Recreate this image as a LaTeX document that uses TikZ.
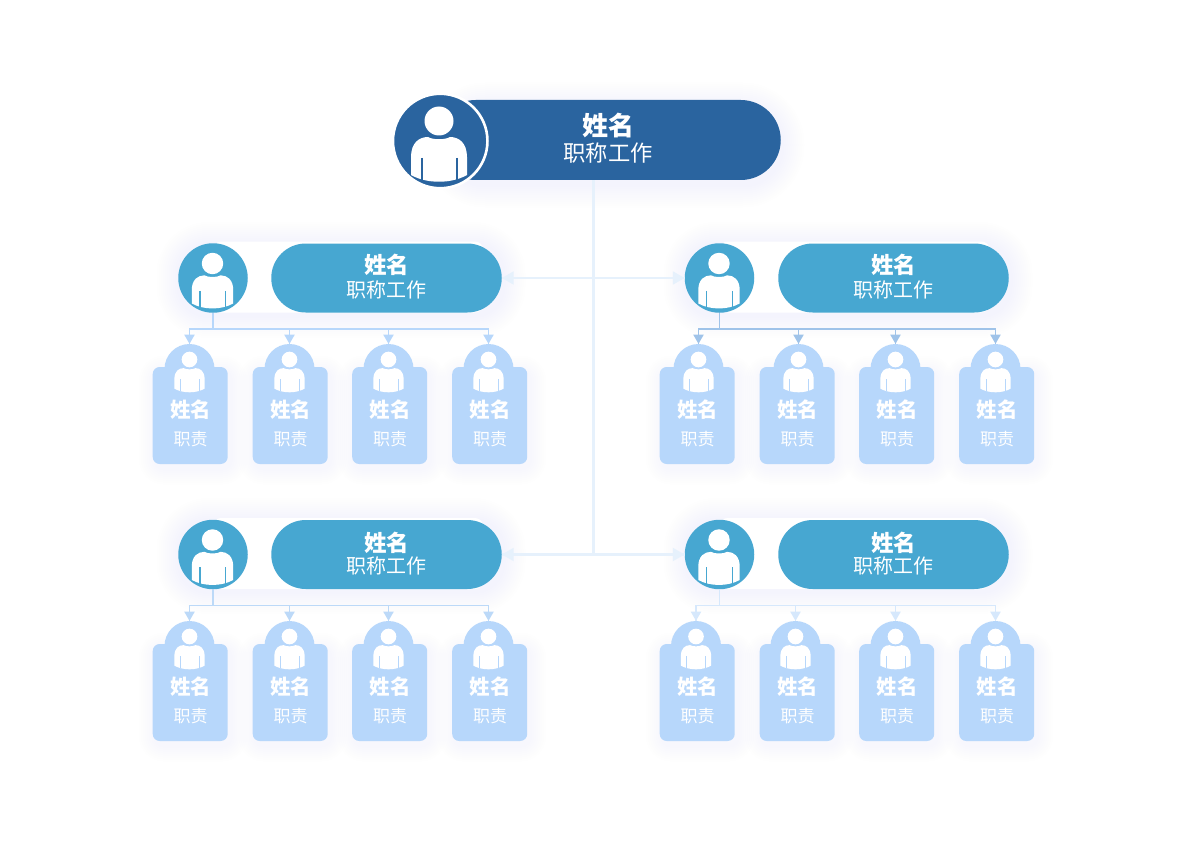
\documentclass[tikz,border=0pt]{standalone}
\usepackage{fontspec}
\usepackage{tikz}
\setmainfont{Noto Sans CJK SC}
\usetikzlibrary{arrows}
\usetikzlibrary{decorations.markings}
\definecolor{topblue}{HTML}{2A649F}
\definecolor{midblue}{HTML}{47A7D1}
\definecolor{tagblue}{HTML}{B7D7FB}
\definecolor{shadowblue}{HTML}{E6F1FD}
\definecolor{trunkblue}{HTML}{E6F1FC}
\definecolor{lineA}{HTML}{B7D7FB}
\definecolor{lineB}{HTML}{9FC3E9}
\definecolor{lineC}{HTML}{BCD9F8}
\definecolor{lineD}{HTML}{D6E8FC}
\tikzset{tiphead/.style = {decoration={markings,
                                  mark=at position 1 with {\arrow[scale=#1]{triangle 60}}},
                      postaction={decorate}},
  pill/.style = {rectangle, inner sep=0pt},
  round/.style = {circle, inner sep=0pt},
  tagbody/.style = {rectangle, inner sep=0pt, fill=tagblue, rounded corners=7pt,
                    minimum width=75pt, minimum height=97pt},
  dome/.style = {round, fill=tagblue, minimum size=50pt},
  whitetext/.style = {text=white, inner sep=0pt},
  pics/personicon/.style = {code={
      \fill[white] (0,0) circle (14.5);
      \fill[white] (-28,54) -- (-28,36) .. controls (-28,22) and (-20,16) .. (-11,16)
        .. controls (-6,19) and (6,19) .. (11,16)
        .. controls (20,16) and (28,22) .. (28,36) -- (28,54)
        .. controls (12,63) and (-12,63) .. (-28,54) -- cycle;
      \draw[#1, line width=1.2pt] (-17,37) -- (-17,59);
      \draw[#1, line width=1.2pt] (18,37) -- (18,59);
  }}}
\newcommand{\softshadow}[6]{%
  \foreach \s in {1,3,...,#6}
    \fill[shadowblue, opacity=.04, rounded corners=#5+\s]
      ({#1-\s},{#2-\s}) rectangle ({#3+\s},{#4+\s});}
\begin{document}
\begin{tikzpicture}[x=1pt, y=-1pt]
  \useasboundingbox (0,0) rectangle (1200,848);
  \fill[white] (0,0) rectangle (1200,848);
  % soft shadows
  \softshadow{445}{104}{783}{186}{40}{21}
  \foreach \gx/\gy in {178/243.5, 685/243.5, 178/519.5, 685/519.5} {
    \softshadow{\gx}{\gy}{\gx+326}{\gy+73}{30}{21}
  }
  \foreach \bx/\by in {190.5/367, 290/367, 389.5/367, 489.5/367,
                       697.5/367, 796.5/367, 896.5/367, 996.5/367,
                       190.5/644, 290/644, 389.5/644, 489.5/644,
                       697.5/644, 796.5/644, 896.5/644, 996.5/644} {
    \softshadow{\bx-36}{\by+4}{\bx+41}{\by+102}{9}{15}
  }
  % white bands behind the second level
  \foreach \gx/\gy in {213/241.5, 719.5/241.5, 213/518} {
    \fill[white, rounded corners=8pt] (\gx,\gy) rectangle (\gx+270,\gy+71);
  }
  \fill[white, rounded corners=8pt] (719.5,518) rectangle (989.5,589);
  % top level
  \node[pill, fill=topblue, rounded corners=40pt, minimum width=345pt, minimum height=80pt] (pillTop) at (608.25,140) {};
  \node[round, fill=topblue, draw=white, line width=2.6pt, minimum size=94.5pt] (circTop) at (440.2,141) {};
  \pic at (439,121) {personicon=topblue};
  \node[whitetext, font=\bfseries\fontsize{26}{26}\selectfont] (nameTop) at (608,125.5) {姓名};
  \node[whitetext, font=\fontsize{22.3}{26}\selectfont] (jobTop) at (608,153.5) {职称工作};
  % second level
  \foreach \g/\cx/\px/\cy/\ny in {A/213/386.5/278/264.5, B/719.5/893.5/278/264.5, C/213/386.5/554.5/542.5, D/719.5/893.5/554.5/542.5} {
    \node[pill, fill=midblue, rounded corners=34.5pt, minimum width=230.5pt, minimum height=69pt] (pill\g) at (\px,\cy) {};
    \node[round, fill=midblue, minimum size=69.5pt] (circ\g) at (\cx,\cy) {};
    \pic[scale=.74] at (\cx-.5,\cy-14.5) {personicon=midblue};
    \node[whitetext, font=\bfseries\fontsize{22.5}{24}\selectfont] (name\g) at (\px,\ny) {姓名};
    \node[whitetext, font=\fontsize{20}{24}\selectfont] (job\g) at (\px,\cy+11.5) {职称工作};
  }
  % connectors from the top
  \coordinate (junctA) at (593.5,278);
  \coordinate (junctB) at (593.5,554.5);
  \draw[trunkblue, line width=3pt] (pillTop.south -| junctB) -- (junctB);
  \draw[trunkblue, line width=2.4pt, tiphead=.95] (junctA) -- (pillA.east);
  \draw[trunkblue, line width=2.4pt, tiphead=.95] (junctA) -- (circB.west);
  \draw[trunkblue, line width=2.4pt, tiphead=.95] (junctB) -- (pillC.east);
  \draw[trunkblue, line width=2.4pt, tiphead=.95] (junctB) -- (circD.west);
  % third level
  \foreach \g/\ty/\col/\dlist in {
      A/0/lineA/{1/189.5/190.5,2/289.5/290.5,3/388.5/390,4/488.5/490},
      B/0/lineB/{1/698.5/697.5,2/798.5/797.5,3/895.5/897,4/995.5/997},
      C/277/lineC/{1/189.5/190.5,2/289.5/290.5,3/388.5/390,4/488.5/490},
      D/277/lineD/{1/696/697.5,2/795.5/797.5,3/895.5/897,4/995.5/997}} {
    \coordinate (bus\g) at (0,{329+\ty-.5*(\ty/277)});
    \foreach \i/\dx/\bx in \dlist {
      \node[dome] (dome\g\i) at (\dx,369+\ty) {};
      \node[tagbody] (tag\g\i) at (\bx-.3,415.5+\ty) {};
      \pic[scale=.54] at (\dx,359.5+\ty) {personicon=tagblue};
      \node[whitetext, font=\bfseries\fontsize{20.5}{22}\selectfont] (name\g\i) at (\bx,409.5+\ty) {姓名};
      \node[whitetext, font=\fontsize{17}{20}\selectfont] (duty\g\i) at (\bx,439+\ty) {职责};
      \draw[\col, line width=1.7pt, tiphead=.95] (circ\g.south) -- (circ\g.south |- bus\g) -| (dome\g\i.north);
    }
  }
\end{tikzpicture}
\end{document}
